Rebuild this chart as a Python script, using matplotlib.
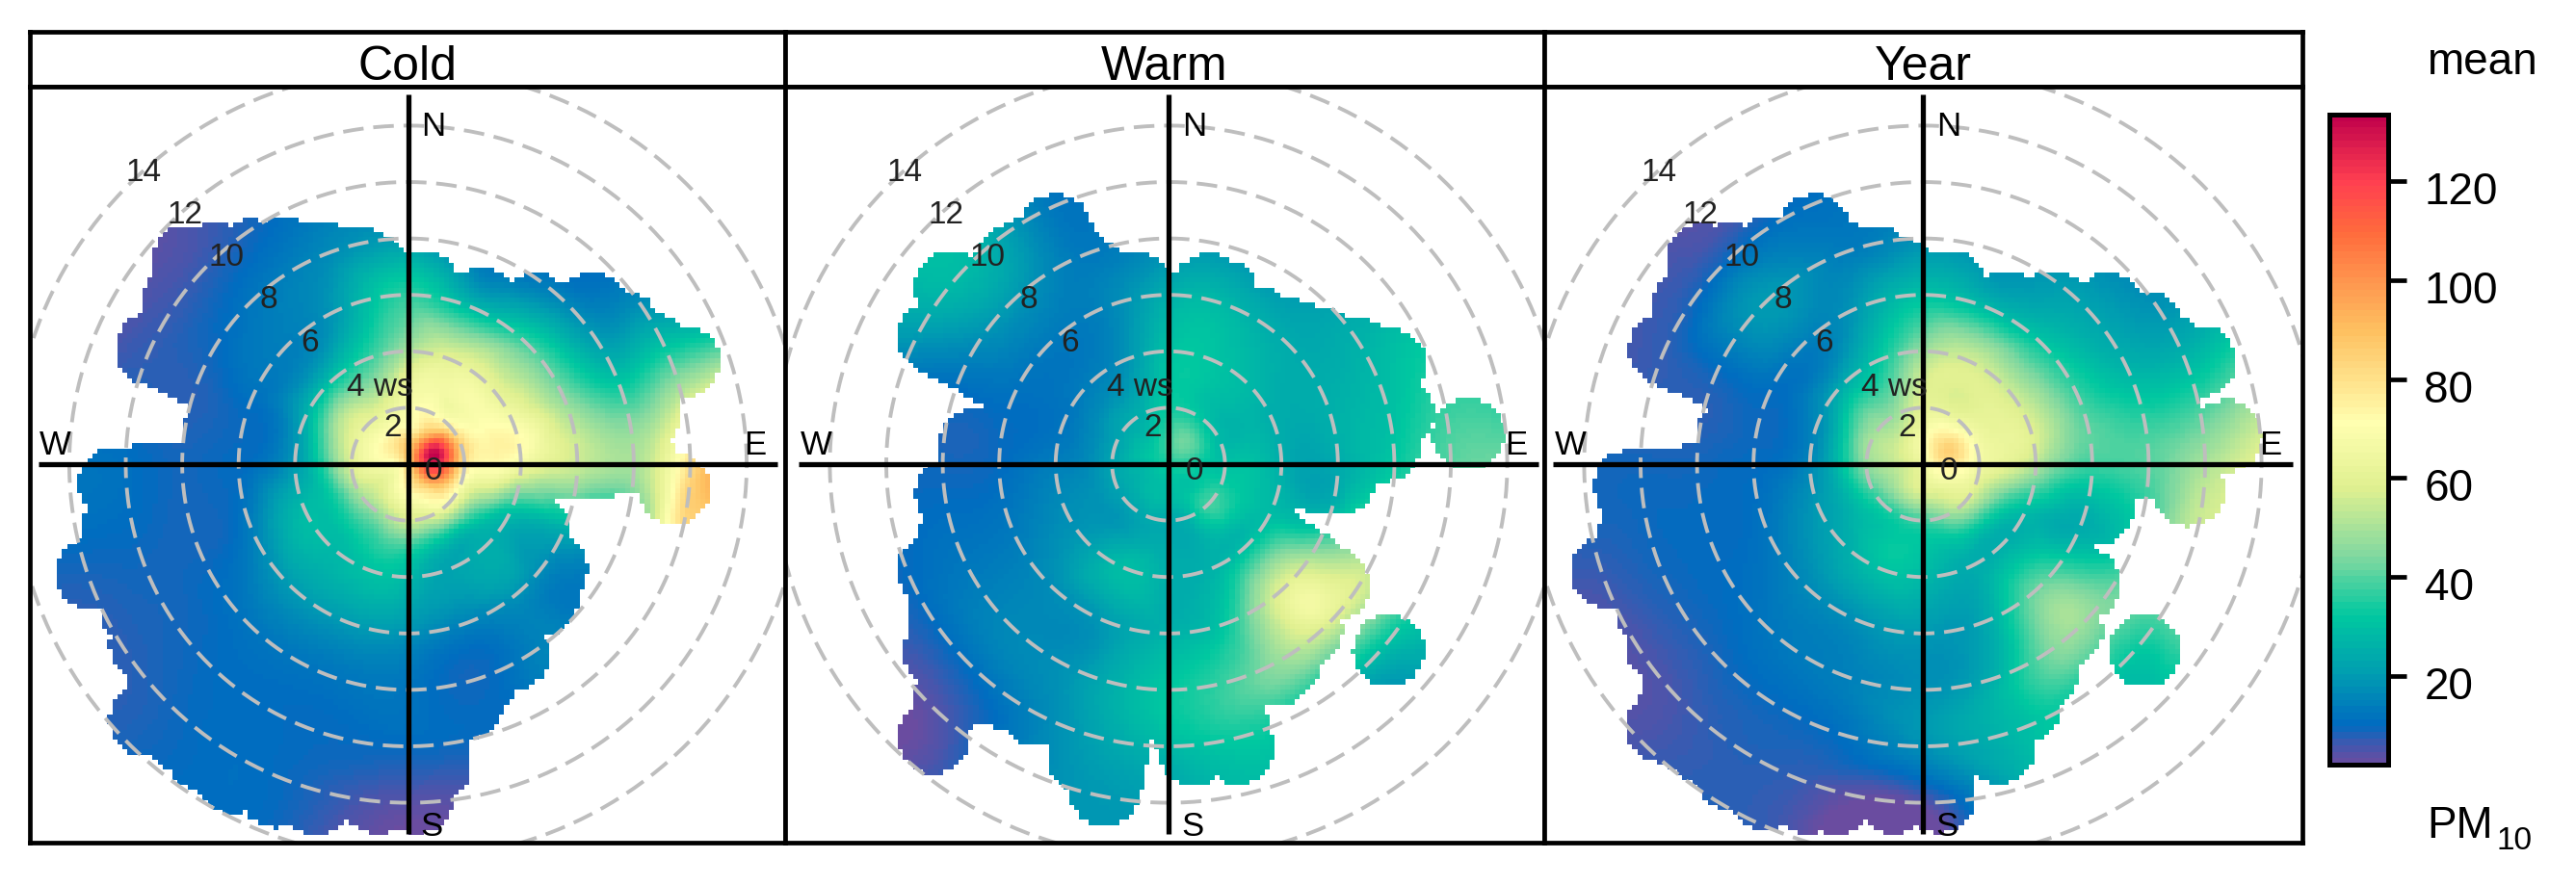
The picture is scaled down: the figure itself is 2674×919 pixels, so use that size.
import numpy as np
import matplotlib
matplotlib.use("Agg")
import matplotlib.pyplot as plt
import matplotlib.tri as mtri
from matplotlib.colors import LinearSegmentedColormap
from matplotlib.transforms import ScaledTranslation

plt.rcParams['font.family'] = ['Liberation Sans', 'DejaVu Sans']

W, H = 2674, 920
PX_WS = 29.3  # pixels per ws unit

panel_names = ["Cold", "Warm", "Year"]
panel_left = [30.5, 815, 1603]
panel_right = [815, 1603, 2390]
panel_centre = [423.5, 1213, 1996]

ws_levels = [1, 2, 3, 4, 6, 8, 10, 12]
wd_names = ["N", "NNE", "NE", "ENE", "E", "ESE", "SE", "SSE", "S", "SSW", "SW", "WSW", "W", "WNW", "NW", "NNW"]

# mean PM10, rows = ws_levels, columns = wd_names
cold_centre = 85
cold_values = [
    [80, 90, 115, 133, 125, 110, 90, 78, 72, 68, 62, 62, 68, 72, 75, 78],
    [68, 72, 74, 85, 80, 70, 66, 58, 56, 50, 48, 52, 58, 62, 62, 62],
    [62, 66, 68, 72, 72, 50, 32, 30, 36, 36, 33, 32, 36, 45, 50, 48],
    [50, 60, 62, 68, 66, 33, 25, 22, 28, 30, 28, 28, 20, 24, 30, 36],
    [36, 28, 38, 46, 55, 25, 18, 15, 18, 20, 20, 14, 10, 11, 14, 22],
    [20, 12, 16, 30, 50, 25, 14, 10, 12, 12, 12, 9, 9, 8, 12, 16],
    [15, 12, 11, 35, 80, 68, 14, 10, 10, 10, 10, 9, 11, 7, 7, 12],
    [15, 12, 11, 32, 106, 40, 14, 8, 4, 10, 9, 8, 12, 4, 4, 12],
]
warm_centre = 34
warm_values = [
    [38, 42, 42, 38, 33, 32, 30, 30, 29, 29, 28, 27, 28, 30, 30, 33],
    [33, 33, 30, 28, 30, 34, 38, 28, 24, 24, 22, 22, 22, 22, 24, 27],
    [31, 31, 28, 27, 30, 31, 30, 25, 24, 24, 19, 18, 16, 16, 18, 22],
    [30, 31, 28, 25, 25, 28, 30, 26, 25, 29, 21, 17, 14, 12, 14, 18],
    [25, 27, 24, 25, 24, 33, 60, 35, 26, 20, 17, 13, 10, 11, 13, 15],
    [18, 18, 22, 28, 32, 50, 58, 42, 32, 20, 16, 12, 9, 12, 20, 13],
    [20, 18, 22, 33, 40, 40, 28, 33, 28, 18, 11, 10, 9, 16, 28, 12],
    [20, 20, 22, 30, 42, 40, 18, 28, 22, 17, 4, 9, 9, 20, 28, 12],
]
year_centre = 65
year_values = [
    [68, 75, 82, 85, 78, 70, 64, 60, 58, 56, 54, 52, 54, 56, 58, 62],
    [60, 62, 65, 68, 66, 60, 55, 45, 38, 36, 36, 40, 46, 50, 48, 50],
    [56, 58, 60, 62, 60, 42, 32, 30, 31, 32, 28, 26, 28, 32, 38, 40],
    [48, 56, 55, 58, 52, 30, 25, 24, 28, 30, 24, 20, 16, 17, 24, 32],
    [30, 28, 32, 38, 38, 24, 42, 24, 20, 18, 16, 12, 10, 10, 14, 20],
    [18, 18, 22, 28, 40, 35, 48, 30, 18, 14, 12, 10, 9, 9, 20, 14],
    [15, 14, 16, 26, 50, 50, 32, 30, 18, 10, 9, 9, 9, 7, 10, 11],
    [14, 14, 16, 32, 60, 50, 30, 30, 4, 7, 6, 6, 9, 5, 4, 8],
]

# furthest bins with data, east / north components in ws
cold_edge_e = [0.54, 2.62, 4.5, 6.5, 7.6, 8.6, 9.77, 8.4, 8.2, 6.9, 4.5, 5.08, 4.77, 3.78, 2.7, 2.08, 0.9, 0.36, -1.08, -3.25,
               -4.7, -6.2, -7.3, -8.0, -9.3, -8.6, -9.3, -9.6, -11.2, -10.3, -10.4, -9.76, -6.76, -9.1, -8.2, -7.8, -6.87, -5.6, -4.43, -3.0, -1.8, -1.08]
cold_edge_n = [6.28, 5.67, 5.5, 5.5, 4.9, 4.1, 3.64, 1.8, 0.2, 0.1, -2.4, -3.7, -4.79, -6.7, -7.47, -8.5, -10.8, -11.8, -11.84, -11.84,
               -11.6, -11.1, -10.3, -9.7, -9.1, -7.8, -6.4, -5.2, -3.9, -2.3, -0.67, -0.75, 1.05, 4.1, 5.7, 7.2, 7.3, 7.4, 7.5, 7.3, 7.2, 6.8]
cold_island_e = [9.43]
cold_island_n = [-0.86]

warm_edge_e = [1.39, 1.9, 3.2, 4.44, 5.6, 6.62, 7.84, 8.14, 7.67, 6.1, 5.85, 4.9, 4.13, 3.8, 2.47, 0.87, -2.26, -3.0, -4.7, -5.57,
               -6.1, -7.05, -7.8, -8.13, -8.0, -8.33, -7.6, -7.7, -6.88, -6.1, -7.05, -8.33, -7.75, -5.57, -5.0, -4.0, -3.3, -2.6, -1.8, -1.05]
warm_edge_n = [6.19, 6.0, 5.0, 4.56, 4.2, 3.93, 3.54, 1.82, 0.67, -0.48, -4.29, -5.9, -7.0, -7.3, -10.06, -10.1, -11.55, -10.44, -8.7, -8.2,
               -8.0, -7.97, -8.4, -6.6, -5.2, -3.74, -2.6, -1.05, 0.67, 3.35, 3.93, 4.5, 6.28, 7.2, 7.5, 8.3, 7.0, 6.7, 6.3, 6.2]
warm_island_e = [10.63, 7.8, -8.33]
warm_island_n = [1.05, -6.6, -9.67]

year_edge_e = [1.0, 3.0, 4.58, 6.58, 7.98, 8.6, 9.8, 9.6, 8.6, 8.0, 6.67, 6.2, 4.9, 5.75, 5.1, 4.32, 3.6, 2.7, 0.57, -1.0, -3.08, -4.04, -5.6, -6.74,
               -7.6, -8.3, -9.27, -8.6, -9.27, -9.6, -11.2, -10.2, -10.4, -9.36, -6.78, -9.13, -8.3, -7.82, -6.83, -5.4, -3.87, -2.8, -1.69, -0.82]
year_edge_n = [6.3, 5.6, 5.6, 5.5, 4.85, 4.1, 3.64, 0.4, 2.0, 0.0, -0.38, -1.6, -2.5, -4.25, -5.9, -7.3, -8.6, -10.06, -11.8, -11.84, -11.84, -11.84, -11.7, -11.0,
               -10.15, -9.7, -9.3, -7.8, -6.4, -5.2, -3.83, -2.3, -0.77, -0.75, 0.96, 4.08, 5.7, 7.24, 7.28, 7.5, 8.3, 7.3, 7.18, 6.8]
year_island_e = [10.77, 9.4, 7.86]
year_island_n = [1.0, -0.92, -6.6]

bin_radius = 1.28
cell = 0.178

ring_ws = [2, 4, 6, 8, 10, 12, 14]
label_ws = [0, 2, 6, 8, 10, 12, 14]

# colour scale
key_min, key_max = 2.0, 133.5
key_ticks = [20, 40, 60, 80, 100, 120]
stop_values = [2, 5, 10, 21, 32, 44, 58, 71, 90, 110, 120, 133.5]
stop_colours = ["#6A4CA0", "#4A55AC", "#006CC0", "#00A0B0", "#00C8A0", "#80D8A0",
                "#E0F090", "#FFFFB0", "#FEC060", "#FF6A3C", "#FF4050", "#C0004C"]
stops = [(v - key_min) / (key_max - key_min) for v in stop_values]
pm_cmap = LinearSegmentedColormap.from_list("pm", list(zip(stops, stop_colours)))


def px_axes(fig, left, top, right, bottom):
    return fig.add_axes([left / W, 1 - bottom / H, (right - left) / W, (bottom - top) / H])


def seg_dist(xx, yy, ex, ey):
    # distance from the grid to the line origin -> edge bin
    t = np.clip((xx * ex + yy * ey) / (ex * ex + ey * ey), 0, 1)
    return np.hypot(xx - t * ex, yy - t * ey)


def surface(xx, yy, centre, values, edge_e, edge_n, island_e, island_n):
    vals = np.array(values, dtype=float)
    vals = np.vstack([vals, vals[-1]])  # carries the last row to the outer limit
    levels = list(ws_levels) + [15]
    angles = np.deg2rad(np.arange(len(wd_names)) * 22.5)
    e = [0.0]
    n = [0.0]
    z = [float(centre)]
    for i, ws in enumerate(levels):
        for j, a in enumerate(angles):
            e.append(ws * np.sin(a))
            n.append(ws * np.cos(a))
            z.append(vals[i, j])
    tri = mtri.Triangulation(np.array(e), np.array(n))
    interp = mtri.CubicTriInterpolator(tri, np.array(z), kind="min_E")
    zz = np.clip(np.ma.filled(interp(xx, yy), np.nan), key_min, key_max)

    keep = np.zeros(xx.shape, dtype=bool)
    for ex, ey in zip(edge_e, edge_n):
        keep |= seg_dist(xx, yy, ex, ey) <= bin_radius
    for ex, ey in zip(island_e, island_n):
        keep |= np.hypot(xx - ex, yy - ey) <= bin_radius
    return np.ma.masked_where(~keep | np.isnan(zz), zz)


panel_data = [
    (cold_centre, cold_values, cold_edge_e, cold_edge_n, cold_island_e, cold_island_n),
    (warm_centre, warm_values, warm_edge_e, warm_edge_n, warm_island_e, warm_island_n),
    (year_centre, year_values, year_edge_e, year_edge_n, year_island_e, year_island_n),
]

fig = plt.figure(figsize=(W / 100, H / 100), dpi=100)

frame_lw = 3.4
cross_lw = 3.8
for i, name in enumerate(panel_names):
    left, right, cx = panel_left[i], panel_right[i], panel_centre[i]
    strip = px_axes(fig, left, 34, right, 91)
    strip.set_xticks([])
    strip.set_yticks([])
    for s in strip.spines.values():
        s.set_linewidth(frame_lw)
    strip.text(0.5, 0.37, name, transform=strip.transAxes, ha="center", va="center", fontsize=36)

    ax = px_axes(fig, left, 91, right, 876)
    ax.set_xlim((left - cx) / PX_WS, (right - cx) / PX_WS)
    ax.set_ylim((483 - 876) / PX_WS, (483 - 91) / PX_WS)
    ax.set_xticks([])
    ax.set_yticks([])
    for s in ax.spines.values():
        s.set_linewidth(frame_lw)

    x_edges = np.arange(-13.5, 13.5 + cell, cell)
    x_mid = (x_edges[:-1] + x_edges[1:]) / 2
    xx, yy = np.meshgrid(x_mid, x_mid)
    zz = surface(xx, yy, *panel_data[i])
    ax.pcolormesh(x_edges, x_edges, zz, cmap=pm_cmap, vmin=key_min, vmax=key_max,
                  shading="flat", antialiased=False, zorder=1)

    theta = np.linspace(0, 2 * np.pi, 400)
    for r in ring_ws:
        ax.plot(r * np.cos(theta), r * np.sin(theta), color="#BEBEBE", lw=2.8,
                dashes=(5.5, 2.6), zorder=2)

    ax.plot([-13.1, 13.1], [0, 0], color="black", lw=cross_lw, zorder=3, solid_capstyle="butt")
    ax.plot([0, 0], [-13.1, 13.1], color="black", lw=cross_lw, zorder=3, solid_capstyle="butt")

    for r in label_ws:
        ax.text(0.92 - 0.734 * r, -0.21 + 0.756 * r, str(r), ha="center", va="center",
                fontsize=24, color="#222222", zorder=4)
    ax.text(-1.0, 2.76, "4 ws", ha="center", va="center", fontsize=24, color="#222222", zorder=4)

    ax.text(0.9, 12.0, "N", ha="center", va="center", fontsize=25, zorder=4)
    ax.text(0.85, -12.8, "S", ha="center", va="center", fontsize=25, zorder=4)
    ax.text(-12.5, 0.7, "W", ha="center", va="center", fontsize=25, zorder=4)
    ax.text(12.3, 0.7, "E", ha="center", va="center", fontsize=25, zorder=4)

# colour key
key = px_axes(fig, 2418, 120, 2479, 795)
key_edges = np.linspace(key_min, key_max, 101)
key.pcolormesh([0, 1], key_edges, ((key_edges[:-1] + key_edges[1:]) / 2).reshape(-1, 1),
               cmap=pm_cmap, vmin=key_min, vmax=key_max)
key.set_xticks([])
key.yaxis.tick_right()
key.set_yticks(key_ticks)
key.set_yticklabels([str(t) for t in key_ticks], fontsize=33)
key.tick_params(axis="y", length=14, width=3.4, pad=13)
for lbl in key.get_yticklabels():
    lbl.set_transform(lbl.get_transform() + ScaledTranslation(0, -6 / 100, fig.dpi_scale_trans))
for s in key.spines.values():
    s.set_linewidth(3.6)

fig.text(2519 / W, 1 - 65 / H, "mean", fontsize=33, ha="left", va="center")
fig.text(2519 / W, 1 - 858 / H, "PM", fontsize=33, ha="left", va="center")
fig.text(2591 / W, 1 - 874 / H, "10", fontsize=24, ha="left", va="center")

fig.savefig("out.png", dpi=100)
